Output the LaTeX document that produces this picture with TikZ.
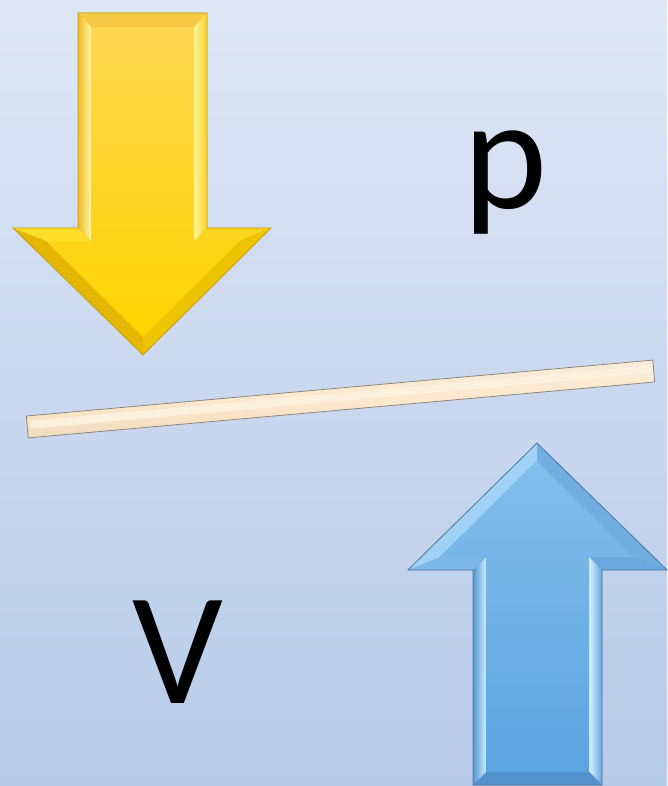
\documentclass[tikz,border=0pt]{standalone}
\usepackage{fontspec}
\setmainfont{Carlito}
\definecolor{bgtop}{RGB}{221,231,245}
\definecolor{bgbot}{RGB}{183,202,232}
\definecolor{ybodytop}{RGB}{255,214,80}
\definecolor{ybodybot}{RGB}{255,213,0}
\definecolor{yline}{RGB}{200,160,30}
\definecolor{bbodytop}{RGB}{130,190,236}
\definecolor{bbodybot}{RGB}{92,164,224}
\definecolor{bline}{RGB}{78,122,165}
\definecolor{barfill}{RGB}{252,232,206}
\definecolor{barline}{RGB}{140,135,125}
\tikzset{
  lbl/.style={inner sep=0pt, anchor=base, text=black, font=\fontsize{160}{160}\selectfont},
}
\begin{document}
\begin{tikzpicture}[x=1pt,y=-1pt]
\useasboundingbox (0,0) rectangle (667,786);
\shade[top color=bgtop, bottom color=bgbot] (0,0) rectangle (667,786);

% ---------- yellow arrow ----------
\coordinate (yo1) at (78,13);  \coordinate (yo2) at (207,13);
\coordinate (yo3) at (207,228);\coordinate (yo4) at (271,228);
\coordinate (yo5) at (143,355);\coordinate (yo6) at (13,228);
\coordinate (yo7) at (78,228);
\coordinate (yi1) at (91,27);  \coordinate (yi2) at (194,27);
\coordinate (yi3) at (194,241);\coordinate (yi4) at (240,241);
\coordinate (yi5) at (143,337);\coordinate (yi6) at (46,241);
\coordinate (yi7) at (91,241);
\fill[yline] (yo1)--(yo2)--(yo3)--(yo4)--(yo5)--(yo6)--(yo7)--cycle;
\fill[color={rgb,255:red,245;green,200;blue,70}] (yo1)--(yo2)--(yi2)--(yi1)--cycle;
\shade[left color={rgb,255:red,255;green,245;blue,150}, right color={rgb,255:red,250;green,210;blue,40}] (yo2)--(yo3)--(yi3)--(yi2)--cycle;
\fill[color={rgb,255:red,250;green,214;blue,30}] (yo3)--(yo4)--(yi4)--(yi3)--cycle;
\fill[color={rgb,255:red,238;green,195;blue,0}] (yo4)--(yo5)--(yi5)--(yi4)--cycle;
\fill[color={rgb,255:red,228;green,182;blue,0}] (yo5)--(yo6)--(yi6)--(yi5)--cycle;
\fill[color={rgb,255:red,255;green,222;blue,40}] (yo6)--(yo7)--(yi7)--(yi6)--cycle;
\shade[left color={rgb,255:red,240;green,185;blue,40}, right color={rgb,255:red,255;green,248;blue,160}] (yo7)--(yo1)--(yi1)--(yi7)--cycle;
\shade[top color=ybodytop, bottom color=ybodybot] (yi1)--(yi2)--(yi3)--(yi4)--(yi5)--(yi6)--(yi7)--cycle;
\draw[yline, line width=0.8pt, line join=miter] (yo1)--(yo2)--(yo3)--(yo4)--(yo5)--(yo6)--(yo7)--cycle;

% ---------- blue arrow ----------
\coordinate (bo1) at (537,443); \coordinate (bo2) at (667,570);
\coordinate (bo3) at (602,570); \coordinate (bo4) at (602,785);
\coordinate (bo5) at (473,785); \coordinate (bo6) at (473,570);
\coordinate (bo7) at (408,570);
\coordinate (bi1) at (537,461); \coordinate (bi2) at (634,557);
\coordinate (bi3) at (589,557); \coordinate (bi4) at (589,772);
\coordinate (bi5) at (486,772); \coordinate (bi6) at (486,557);
\coordinate (bi7) at (440,557);
\fill[bline] (bo1)--(bo2)--(bo3)--(bo4)--(bo5)--(bo6)--(bo7)--cycle;
\fill[color={rgb,255:red,112;green,174;blue,226}] (bo1)--(bo2)--(bi2)--(bi1)--cycle;
\fill[color={rgb,255:red,106;green,168;blue,224}] (bo2)--(bo3)--(bi3)--(bi2)--cycle;
\shade[left color={rgb,255:red,215;green,242;blue,255}, right color={rgb,255:red,100;green,165;blue,222}] (bo3)--(bo4)--(bi4)--(bi3)--cycle;
\fill[color={rgb,255:red,82;green,146;blue,204}] (bo4)--(bo5)--(bi5)--(bi4)--cycle;
\shade[left color={rgb,255:red,85;green,150;blue,208}, right color={rgb,255:red,205;green,238;blue,255}] (bo5)--(bo6)--(bi6)--(bi5)--cycle;
\fill[color={rgb,255:red,125;green,184;blue,232}] (bo6)--(bo7)--(bi7)--(bi6)--cycle;
\fill[color={rgb,255:red,160;green,210;blue,245}] (bo7)--(bo1)--(bi1)--(bi7)--cycle;
\shade[top color=bbodytop, bottom color=bbodybot] (bi1)--(bi2)--(bi3)--(bi4)--(bi5)--(bi6)--(bi7)--cycle;
\draw[bline, line width=0.8pt, line join=miter] (bo1)--(bo2)--(bo3)--(bo4)--(bo5)--(bo6)--(bo7)--cycle;

% ---------- bar ----------
\begin{scope}[shift={(340.5,399)}, rotate=5.1]
  \shade[top color={rgb,255:red,250;green,236;blue,218}, bottom color={rgb,255:red,242;green,220;blue,190}, middle color=barfill]
    (-314.5,-11) rectangle (314.5,11);
  \fill[color={rgb,255:red,254;green,240;blue,222}] (-311,-6) rectangle (311,2);
  \draw[barline, line width=0.8pt] (-314.5,-11) rectangle (314.5,11);
\end{scope}

% ---------- labels ----------
\node[lbl] (p) at (506,209) {p};
\node[lbl] (v) at (178,703) {V};
\end{tikzpicture}
\end{document}
